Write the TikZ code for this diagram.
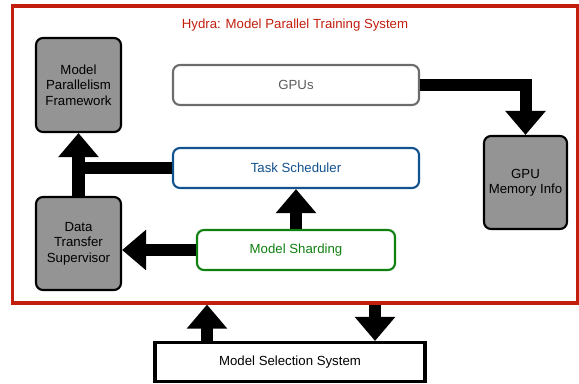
\documentclass[tikz,border=0pt]{standalone}
\usepackage{fontspec}
\setmainfont{Liberation Sans}
\usetikzlibrary{shapes.geometric, arrows.meta, positioning}
\definecolor{hydrared}{RGB}{194,30,14}
\definecolor{schedblue}{RGB}{18,82,142}
\definecolor{shardgreen}{RGB}{16,128,16}
\definecolor{boxgray}{RGB}{148,148,148}
\definecolor{gpugray}{RGB}{108,108,108}

\begin{document}
\begin{tikzpicture}[x=0.025cm, y=-0.025cm]
		\tikzstyle{Module} = [rectangle, rounded corners=5pt, minimum width=2.125cm, minimum height=2.35cm, align=center, draw=black, line width=1.5pt, fill=boxgray, font=\fontsize{9.4}{11}\selectfont]
		\tikzstyle{Wide} = [rectangle, rounded corners=5pt, minimum width=6.15cm, minimum height=1cm, text centered, line width=1.5pt, fill=white, font=\fontsize{9.4}{11}\selectfont]
		\tikzstyle{arrow} = [line width=0.3cm, -{Triangle[width=0.975cm, length=0.6cm]}]
		\tikzstyle{bar} = [line width=0.3cm]
		
		\useasboundingbox (0,0) rectangle (579,383);
		
		\node (frame) [rectangle, draw=hydrared, line width=2.2pt, minimum width=14.1cm, minimum height=7.425cm] at (295,154.5) {};
		\node (title) [text=hydrared, font=\fontsize{9.4}{11}\selectfont] at (295,25) {Hydra: Model Parallel Training System};
		
		\node (mpf) [Module] at (78.5,85) {Model\\Parallelism\\Framework};
		\node (dts) [Module, minimum height=2.325cm] at (78.5,243.5) {Data\\Transfer\\Supervisor};
		\node (gpumem) [Module, minimum width=2.075cm, minimum height=2.325cm] at (525.5,182.5) {GPU\\Memory Info};
		
		\node (gpus) [Wide, draw=gpugray, text=gpugray!85!black] at (296,85) {GPUs};
		\node (ts) [Wide, draw=schedblue, text=schedblue] at (296,168) {Task Scheduler};
		\node (ms) [Wide, minimum width=4.95cm, draw=shardgreen, text=shardgreen] at (296,250) {Model Sharding};
		
		\node (mss) [rectangle, draw=black, line width=2.2pt, minimum width=6.75cm, minimum height=0.975cm, fill=white, font=\fontsize{9.4}{11}\selectfont] at (290,362) {Model Selection System};
		
		\draw [arrow] (gpus.east) -| (gpumem.north);
		\draw [bar] (ts.west) -- (ts.west -| mpf.south);
		\draw [arrow] (dts.north) -- (mpf.south);
		\draw [arrow] (ms.north) -- (ts.south);
		\draw [arrow] (ms.west) -- (ms.west -| dts.east);
		
		\draw [arrow] ([xshift=-2.075cm]mss.north) -- ([xshift=-2.075cm]mss.north |- frame.south);
		\draw [arrow] ([xshift=2.125cm]mss.north |- frame.south) -- ([xshift=2.125cm]mss.north);
		\end{tikzpicture}
\end{document}
